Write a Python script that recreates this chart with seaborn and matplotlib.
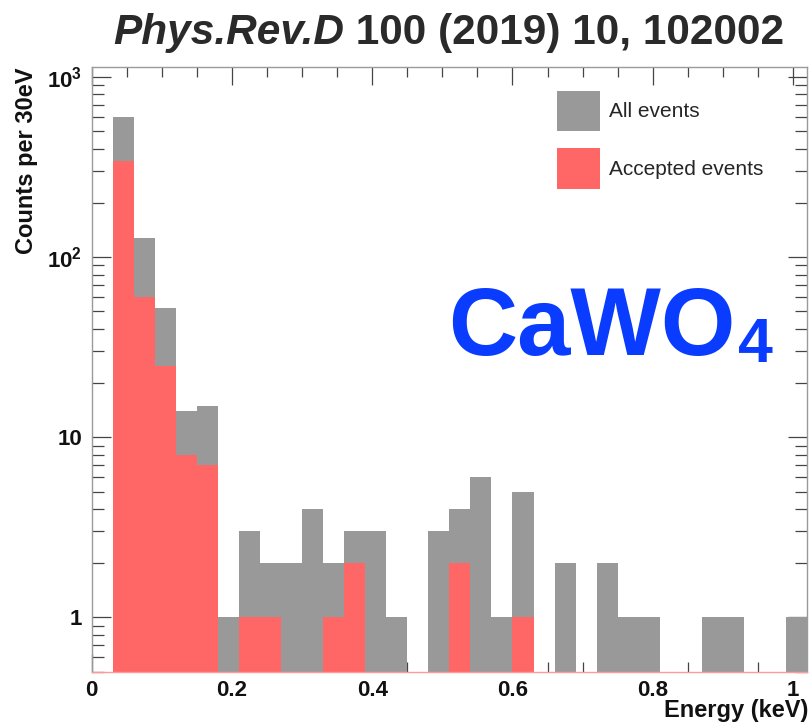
import matplotlib
matplotlib.use("Agg")
import matplotlib.pyplot as plt
import numpy as np
import pandas as pd
import seaborn as sns
from matplotlib.patches import Patch
from matplotlib.ticker import MultipleLocator, LogLocator, FuncFormatter, NullFormatter

# ---------------- data ----------------
bin_low_keV = [0.03, 0.06, 0.09, 0.12, 0.15, 0.18, 0.21, 0.24, 0.27, 0.30, 0.33,
               0.36, 0.39, 0.42, 0.45, 0.48, 0.51, 0.54, 0.57, 0.60, 0.63, 0.66,
               0.69, 0.72, 0.75, 0.78, 0.81, 0.84, 0.87, 0.90, 0.93, 0.96, 0.99]
bin_width_keV = 0.03
all_events = [600, 127, 52, 14, 15, 1, 3, 2, 2, 4, 2,
              3, 3, 1, 0, 3, 4, 6, 1, 5, 0, 2,
              0, 2, 1, 1, 0, 0, 1, 1, 0, 0, 1]
accepted_events = [340, 60, 25, 8, 7, 0, 1, 1, 0, 0, 1,
                   2, 0, 0, 0, 0, 2, 0, 0, 1, 0, 0,
                   0, 0, 0, 0, 0, 0, 0, 0, 0, 0, 0]
series_labels = ["All events", "Accepted events"]
x_ticks = [0, 0.2, 0.4, 0.6, 0.8, 1.0]
y_ticks = [1, 10, 100, 1000]
y_tick_labels = ["1", "10", r"$\mathbf{10^{2}}$", r"$\mathbf{10^{3}}$"]
title_italic = "Phys.Rev.D"
title_rest = " 100 (2019) 10, 102002"
material = "CaWO"
material_sub = "4"

GRAY = "#999999"
RED = "#ff6666"
BLUE = "#0a3cff"

# ---------------- style ----------------
sns.set_theme(style="white")
plt.rcParams["font.family"] = ["Liberation Sans", "DejaVu Sans"]
plt.rcParams["mathtext.fontset"] = "custom"
plt.rcParams["mathtext.rm"] = "Liberation Sans"
plt.rcParams["mathtext.bf"] = "Liberation Sans:bold"
plt.rcParams["mathtext.it"] = "Liberation Sans:italic"

W, H = 810, 723
fig = plt.figure(figsize=(W / 100, H / 100), dpi=100)
L, R, B, T = 91.7, 807.0, 671.7, 67.3
ax = fig.add_axes([L / W, 1 - B / H, (R - L) / W, (B - T) / H])

edges = list(bin_low_keV) + [bin_low_keV[-1] + bin_width_keV]
centers = [b + bin_width_keV / 2 for b in bin_low_keV]
df = pd.DataFrame({"energy": centers, "all": all_events, "acc": accepted_events})

sns.histplot(data=df, x="energy", weights="all", bins=edges, color=GRAY,
             alpha=1, linewidth=0, edgecolor=None, ax=ax)
sns.histplot(data=df, x="energy", weights="acc", bins=edges, color=RED,
             alpha=1, linewidth=0, edgecolor=None, ax=ax)

ax.set_yscale("log")
ax.set_xlim(0, 1.02)
ax.set_ylim(0.5, 1130)
ax.set_xlabel("")
ax.set_ylabel("")

# ticks
ax.xaxis.set_major_locator(MultipleLocator(0.2))
ax.xaxis.set_minor_locator(MultipleLocator(0.05))
ax.xaxis.set_major_formatter(FuncFormatter(lambda v, p: "%g" % round(v, 3)))
ax.yaxis.set_major_locator(LogLocator(base=10, numticks=10))
ax.yaxis.set_minor_locator(LogLocator(base=10, subs=np.arange(2, 10), numticks=20))
ymap = dict(zip(y_ticks, y_tick_labels))
ax.yaxis.set_major_formatter(FuncFormatter(lambda v, p: ymap.get(int(round(v)), "")))
ax.yaxis.set_minor_formatter(NullFormatter())

tick_col = "#444444"
ax.tick_params(axis="x", which="major", direction="in", length=13, width=0.9,
               color=tick_col, top=True, bottom=True, labelsize=16, pad=6)
ax.tick_params(axis="x", which="minor", direction="in", length=7, width=0.9,
               color=tick_col, top=True, bottom=True)
ax.tick_params(axis="y", which="major", direction="in", length=14, width=0.9,
               color=tick_col, left=True, right=True, labelsize=16, pad=7)
ax.tick_params(axis="y", which="minor", direction="in", length=8.5, width=0.9,
               color=tick_col, left=True, right=True)
for lab in ax.get_xticklabels() + ax.get_yticklabels():
    lab.set_fontweight("bold")
    lab.set_color("#111111")

for side in ["left", "top", "right"]:
    ax.spines[side].set_color("#9a9a9a")
    ax.spines[side].set_linewidth(1.0)
ax.spines["bottom"].set_color("#ff9a9a")
ax.spines["bottom"].set_linewidth(1.0)

# legend
fs = 15
ax.legend(handles=[Patch(facecolor=GRAY, edgecolor="none", label=series_labels[0]),
                   Patch(facecolor=RED, edgecolor="none", label=series_labels[1])],
          loc="upper left", bbox_to_anchor=(557 / W, 1 - 90.5 / H),
          bbox_transform=fig.transFigure, frameon=False, borderpad=0,
          borderaxespad=0, handlelength=2.07, handleheight=2.65,
          handletextpad=0.43, labelspacing=0.79, fontsize=fs)

# axis titles
fig.text(26.7 / W, 1 - 67 / H, "Counts per 30eV", rotation=90, ha="center",
         va="top", fontsize=17, fontweight="bold", color="#111111")
fig.text(808 / W, 1 - 717 / H, "Energy (keV)", ha="right", va="baseline",
         fontsize=17, fontweight="bold", color="#111111")

# title and material label
t1 = fig.text(113 / W, 1 - 44 / H, title_italic, ha="left", va="baseline",
              fontsize=30.5, fontweight="bold", fontstyle="italic", color="#2a2a2a")
c1 = fig.text(448 / W, 1 - 355 / H, material, ha="left", va="baseline",
              fontsize=69, fontweight="bold", color=BLUE)
fig.canvas.draw()
r = fig.canvas.get_renderer()
e1 = t1.get_window_extent(r)
fig.text(e1.x1 / W, 1 - 44 / H, title_rest, ha="left", va="baseline",
         fontsize=30.5, fontweight="bold", color="#2a2a2a")
ec = c1.get_window_extent(r)
fig.text((ec.x1 + 3) / W, 1 - 362 / H, material_sub, ha="left", va="baseline",
         fontsize=45, fontweight="bold", color=BLUE)

fig.savefig("out.png", dpi=100)
